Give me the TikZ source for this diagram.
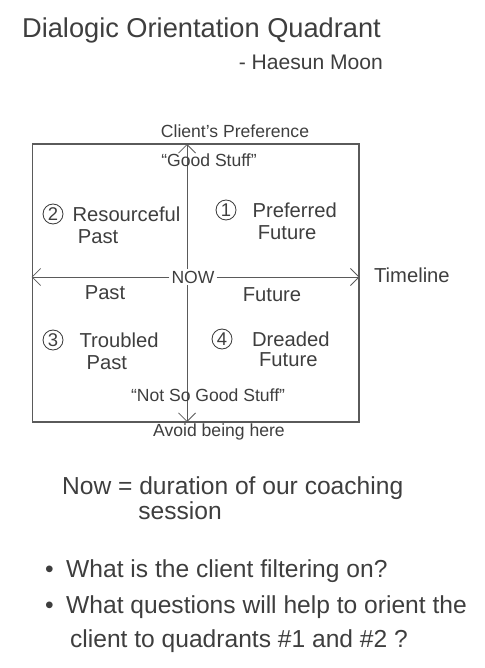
\documentclass[tikz,border=0pt]{standalone}
\usepackage{fontspec}
\setmainfont{Liberation Sans}
\usepackage{tikz}
\usetikzlibrary{positioning,arrows.meta,calc}
\definecolor{ink}{RGB}{62,62,62}
\definecolor{pencil}{RGB}{90,90,90}

\begin{document}
\begin{tikzpicture}[
    x=0.02cm,y=-0.02cm,
    font=\fontsize{11}{13}\selectfont,text=ink,
    frame/.style={draw=pencil,line width=0.6pt,inner sep=0pt,
                  minimum width=6.54cm,minimum height=5.56cm},
    axis/.style={-{Straight Barb[length=1.7mm,width=3.4mm]},draw=pencil,line width=0.5pt},
    qnum/.style={draw=ink,circle,line width=0.5pt,inner sep=0pt,minimum size=0.4cm,
                 font=\fontsize{10.5}{10.5}\selectfont},
    qtext/.style={inner sep=1pt,font=\fontsize{11.5}{13.5}\selectfont},
    title/.style={inner sep=1pt,font=\fontsize{15.5}{18}\selectfont},
    note/.style={inner sep=1pt,font=\fontsize{14}{16}\selectfont},
    small/.style={inner sep=1pt,font=\fontsize{10}{12}\selectfont},
]
\useasboundingbox (0,0) rectangle (484,668);

% --- title ---
\node[title,anchor=west] (title)  at (20,30)  {Dialogic Orientation Quadrant};
\node[inner sep=1pt,font=\fontsize{12}{14}\selectfont,anchor=east] (author) at (385,62) {- Haesun Moon};

% --- quadrant frame and axes ---
\node[frame] (frame) at (195.5,283) {};
\coordinate (up)   at (187,144);
\coordinate (down) at (187,422);
\node[small] (now) at (193,277) {NOW};

\draw[axis] (now.west) -- (now.west -| frame.west);
\draw[axis] (now.east) -- (now.east -| frame.east);
\draw[axis] (up |- now.north) -- (up);
\draw[axis] (down |- now.south) -- (down);

% axis labels
\node[small] (pref)  at (235,131) {Client's Preference};
\node[small] (good)  at (209,160) {``Good Stuff''};
\node[qtext,anchor=west] (timeline) at (372,275) {Timeline};
\node[qtext] (past)   at (105,293) {Past};
\node[qtext] (future) at (272,295) {Future};
\node[small] (bad)   at (208,395) {``Not So Good Stuff''};
\node[small] (avoid) at (219,432) {Avoid being here};

% --- quadrants ---
\node[qnum] (c2) at (53,214)  {2};
\node[qtext,right=4pt of c2] (q2a) {Resourceful};
\node[qtext,below=2pt of q2a.south west,anchor=north west,xshift=3pt] (q2b) {Past};

\node[qnum] (c1) at (226,210) {1};
\node[qtext,right=8pt of c1] (q1a) {Preferred};
\node[qtext,below=2pt of q1a.south west,anchor=north west,xshift=3pt] (q1b) {Future};

\node[qnum] (c3) at (53,340)  {3};
\node[qtext,right=8pt of c3] (q3a) {Troubled};
\node[qtext,below=2pt of q3a.south west,anchor=north west,xshift=4pt] (q3b) {Past};

\node[qnum] (c4) at (222,339) {4};
\node[qtext,right=10pt of c4] (q4a) {Dreaded};
\node[qtext,below=1pt of q4a.south west,anchor=north west,xshift=4pt] (q4b) {Future};

% --- notes ---
\node[note,anchor=west] (nowdef) at (60,488) {Now = duration of our coaching};
\node[note] (session) at (180,511) {session};

\node[note,anchor=west] (bq1) at (43,571) {\textbullet\hspace{0.25cm}What is the client filtering on?};
\node[note,anchor=west] (bq2) at (43,607) {\textbullet\hspace{0.25cm}What questions will help to orient the};
\node[note,anchor=west] (bq3) at (68,641) {client to quadrants \#1 and \#2 ?};
\end{tikzpicture}
\end{document}
